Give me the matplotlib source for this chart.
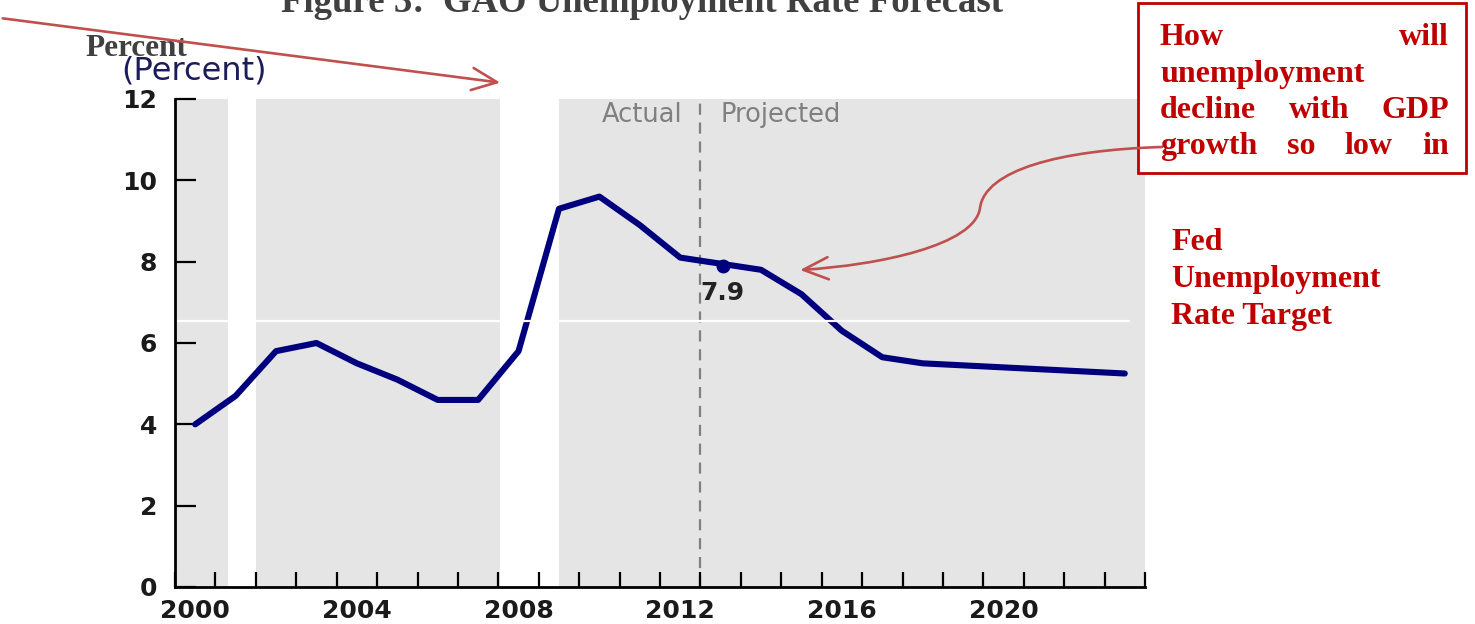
import matplotlib
matplotlib.use("Agg")
import matplotlib.pyplot as plt
from matplotlib.patches import Rectangle, FancyArrowPatch
from matplotlib.path import Path
import numpy as np

# ---------------- data ----------------
years = [2000, 2001, 2002, 2003, 2004, 2005, 2006, 2007, 2008, 2009, 2010, 2011,
         2012, 2013, 2014, 2015, 2016, 2017, 2018, 2019, 2020, 2021, 2022, 2023]
unemployment = [4.0, 4.7, 5.8, 6.0, 5.5, 5.1, 4.6, 4.6, 5.8, 9.3, 9.6, 8.9,
                8.1, 7.95, 7.8, 7.2, 6.3, 5.65, 5.5, 5.45, 5.4, 5.35, 5.3, 5.25]
highlight_year = 2013
highlight_value = 7.9
highlight_label = "7.9"
fed_target = 6.55
projection_start = 2013.0
# shaded (non-recession) periods, in fractional years
shaded_periods = [(2000.0, 2001.3), (2002.0, 2008.05), (2009.5, 2024.0)]
x_tick_labels = ["2000", "2004", "2008", "2012", "2016", "2020"]
y_ticks = [0, 2, 4, 6, 8, 10, 12]

title = "Figure 3:  GAO Unemployment Rate Forecast"
box_lines = [["How", "will"], ["unemployment"], ["decline", "with", "GDP"],
             ["growth", "so", "low", "in"]]
side_lines = ["Fed", "Unemployment", "Rate Target"]

W, H = 1475, 624
fig = plt.figure(figsize=(W / 100, H / 100), dpi=100)
fig.patch.set_facecolor("white")

def fx(px):
    return px / W

def fy(py):
    return 1 - py / H

ax = fig.add_axes([fx(175), fy(587), fx(1145) - fx(175), fy(99) - fy(587)])
ax.set_facecolor("white")
ax.set_xlim(2000, 2024)
ax.set_ylim(0, 12)

for a, b in shaded_periods:
    ax.axvspan(a, b, ymin=0, ymax=1, color="#e5e5e5", lw=0, zorder=0)

ax.axvline(projection_start, color="#808080", lw=1.6, ls=(0, (5, 3.5)), zorder=1)

xs = np.array(years) + 0.5
ax.plot(xs, unemployment, color="#00007f", lw=4.4, solid_capstyle="round",
        solid_joinstyle="round", zorder=3)
ax.plot([highlight_year + 0.55], [highlight_value], "o", color="#00007f", ms=9, zorder=4)
ax.text(highlight_year + 0.55, highlight_value - 0.38, highlight_label, ha="center", va="top",
        fontsize=18, fontweight="bold", color="#222222", family="DejaVu Sans", zorder=4)

ax.text(projection_start - 0.45, 11.6, "Actual", ha="right", va="center", fontsize=18.5,
        color="#808080", family="DejaVu Sans")
ax.text(projection_start + 0.5, 11.6, "Projected", ha="left", va="center", fontsize=18.5,
        color="#808080", family="DejaVu Sans")

# Fed target white line
ax.plot([1999.93, 2023.6], [fed_target, fed_target], color="white", lw=1.6,
        zorder=5, clip_on=False)

for s in ["top", "right"]:
    ax.spines[s].set_visible(False)
for s in ["left", "bottom"]:
    ax.spines[s].set_linewidth(2)
    ax.spines[s].set_color("black")
    ax.spines[s].set_zorder(6)

ax.set_yticks(y_ticks)
ax.set_yticklabels([str(v) for v in y_ticks], fontsize=18, fontweight="bold",
                   family="DejaVu Sans", color="#1a1a1a")
ax.tick_params(axis="y", direction="in", length=15, width=1.6, pad=13)

label_pos = [int(l) + 0.5 for l in x_tick_labels]
ax.set_xticks(label_pos)
ax.set_xticklabels(x_tick_labels, fontsize=18, fontweight="bold",
                   family="DejaVu Sans", color="#1a1a1a")
ax.set_xticks(np.arange(2000, 2025), minor=True)
ax.tick_params(axis="x", which="major", length=0, pad=9)
ax.tick_params(axis="x", which="minor", direction="in", length=11, width=1.6)

# Title (cut at top)
fig.text(fx(642), fy(12), title, ha="center", va="baseline", fontsize=26.5,
         fontweight="bold", family="Liberation Serif", color="#404040")

# Axis unit labels
fig.text(fx(85), fy(56), "Percent", ha="left", va="baseline", fontsize=22.5,
         fontweight="bold", family="Liberation Serif", color="#404040")
fig.text(fx(121), fy(80), "(Percent)", ha="left", va="baseline", fontsize=23,
         family="DejaVu Sans", color="#1c1c5a")

red_line = "#c0504d"
red_text = "#c00000"

# straight arrow from top-left
arr1 = FancyArrowPatch((fx(0), fy(18)), (fx(503), fy(83)), transform=fig.transFigure,
                       arrowstyle="->,head_length=18,head_width=8", color=red_line, lw=1.9,
                       mutation_scale=1, zorder=10)
fig.patches.append(arr1)

# text box
box = Rectangle((fx(1138), fy(173)), fx(1466) - fx(1138), fy(3) - fy(173),
                transform=fig.transFigure, facecolor="white", edgecolor=red_text,
                lw=2, zorder=9)
fig.patches.append(box)

# curved arrow from box to line
verts = [(1162, 147), (1060, 150), (985, 170), (980, 208),
         (975, 245), (880, 265), (800, 270)]
verts = [(fx(x), fy(y)) for x, y in verts]
codes = [Path.MOVETO, Path.CURVE4, Path.CURVE4, Path.CURVE4,
         Path.CURVE4, Path.CURVE4, Path.CURVE4]
arr2 = FancyArrowPatch(path=Path(verts, codes), transform=fig.transFigure,
                       arrowstyle="->,head_length=18,head_width=8", color=red_line, lw=1.9,
                       mutation_scale=1, zorder=10)
fig.patches.append(arr2)

renderer = fig.canvas.get_renderer()
left_px, right_px = 1160, 1449
line_y = [45, 82, 118, 154]
for words, yb in zip(box_lines, line_y):
    texts = [fig.text(0, fy(yb), w, ha="left", va="baseline", fontsize=23,
                      fontweight="bold", family="Liberation Serif", color=red_text,
                      zorder=12) for w in words]
    widths = [t.get_window_extent(renderer).width for t in texts]
    if len(words) == 1:
        texts[0].set_x(fx(left_px))
    else:
        gap = (right_px - left_px - sum(widths)) / (len(words) - 1)
        x = left_px
        for t, wdt in zip(texts, widths):
            t.set_x(fx(x))
            x += wdt + gap

for i, s in enumerate(side_lines):
    fig.text(fx(1171), fy(250 + 37 * i), s, ha="left", va="baseline", fontsize=23,
             fontweight="bold", family="Liberation Serif", color=red_text)

fig.savefig("out.png", dpi=100)
